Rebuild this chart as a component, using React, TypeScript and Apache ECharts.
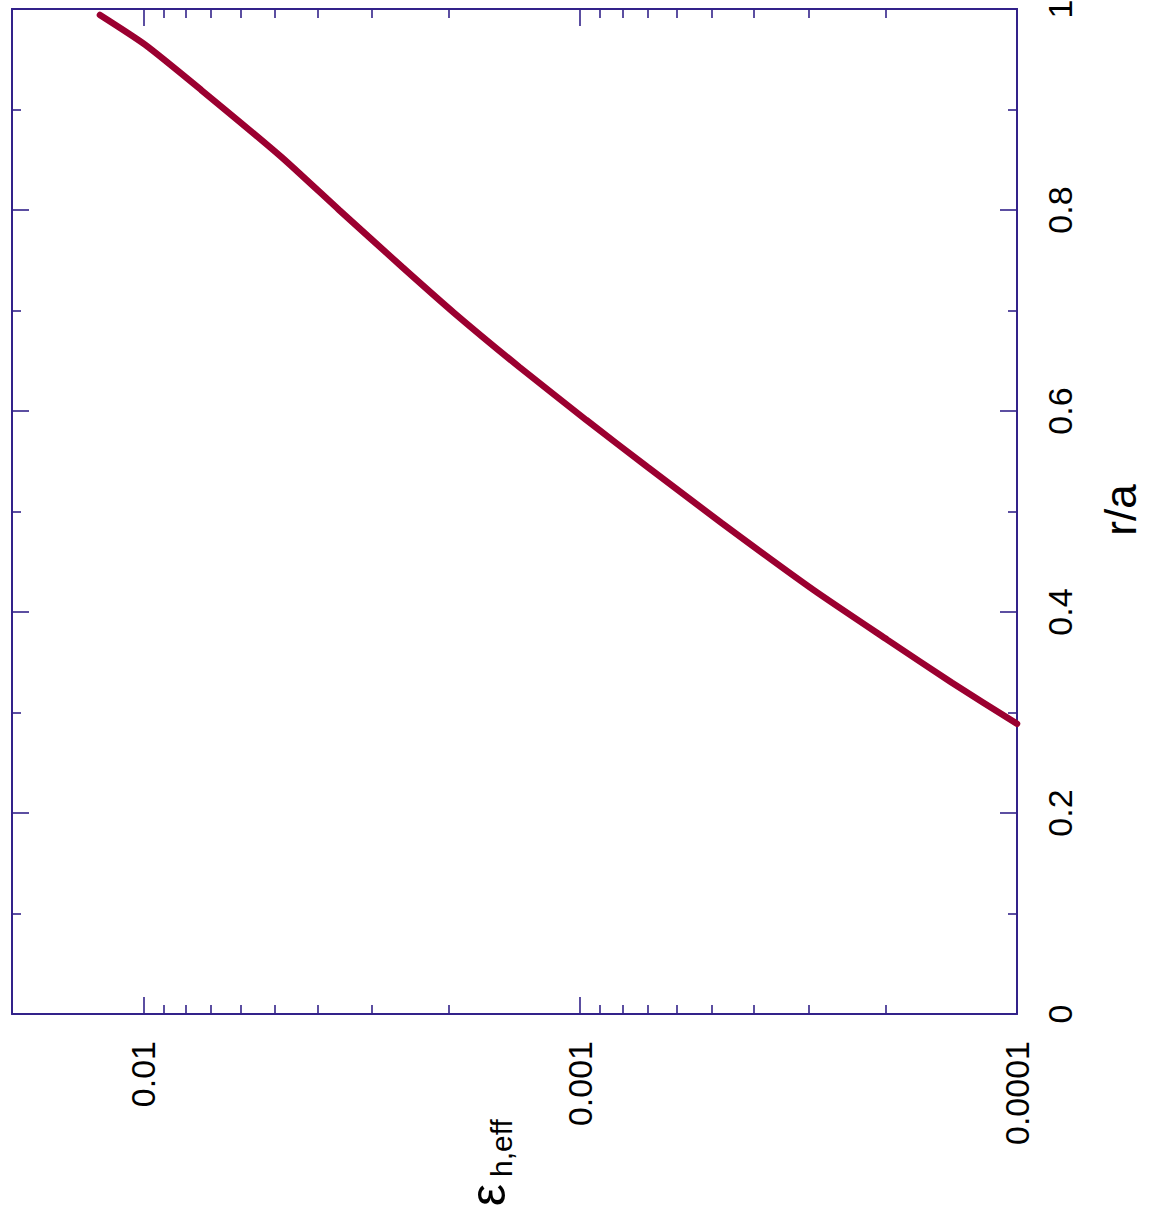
import React, { useEffect, useRef } from "react";
import * as echarts from "echarts";

// r/a (radial position) and effective helical ripple epsilon_h,eff
const rOverA = [0.2888, 0.3296, 0.3723, 0.4220, 0.4887, 0.5444, 0.5911, 0.6438, 0.6976, 0.7433, 0.8000, 0.8530, 0.9195, 0.9645, 0.9940];
const epsilon = [0.0001, 0.0001409, 0.000198, 0.0002925, 0.000475, 0.000702, 0.000969, 0.001379, 0.001944, 0.002557, 0.003565, 0.00484, 0.00738, 0.00992, 0.01258];

const epsMajorTicks = [0.0001, 0.001, 0.01];
const epsMinorTicks = [0.0002, 0.0003, 0.0004, 0.0005, 0.0006, 0.0007, 0.0008, 0.0009, 0.002, 0.003, 0.004, 0.005, 0.006, 0.007, 0.008, 0.009];
const epsMin = 0.0001;
const epsMax = 0.02;

const AXIS_COLOR = "#33228a";
const LINE_COLOR = "#9b0030";
const FONT = "'Liberation Sans', Arial, sans-serif";

export default function App() {
  const ref = useRef<HTMLDivElement>(null);
  useEffect(() => {
    if (!ref.current) return;
    const chart = echarts.init(ref.current, null, { renderer: "svg" });
    const data = rOverA.map((r, i) => [epsilon[i], r]);
    const axisLine = { show: true, onZero: false, lineStyle: { color: AXIS_COLOR, width: 2 } };
    const tickStyle = { color: AXIS_COLOR, width: 1.6 };
    const xBase = (pos: string, ticks: number[], len: number, labels: boolean) => ({
      type: "log",
      logBase: 10,
      min: epsMin,
      max: epsMax,
      inverse: true,
      position: pos,
      axisLine: labels ? axisLine : { show: pos === "top", onZero: false, lineStyle: { color: AXIS_COLOR, width: 2 } },
      axisTick: { show: true, inside: true, length: len, customValues: ticks, lineStyle: tickStyle },
      minorTick: { show: false },
      splitLine: { show: false },
      minorSplitLine: { show: false },
      axisLabel: labels
        ? {
            show: true,
            customValues: ticks,
            rotate: 90,
            margin: 27,
            fontSize: 34,
            fontFamily: FONT,
            color: "#000",
            formatter: (v: number) => {
              const e = Math.round(Math.log10(v));
              return Math.pow(10, e).toFixed(-e);
            },
          }
        : { show: false },
    });
    const yBase = (pos: string, labels: boolean) => ({
      type: "value",
      min: 0,
      max: 1,
      interval: 0.2,
      position: pos,
      axisLine,
      axisTick: { show: true, inside: true, length: 17, lineStyle: tickStyle },
      minorTick: { show: true, splitNumber: 2, length: 9, lineStyle: tickStyle },
      splitLine: { show: false },
      minorSplitLine: { show: false },
      axisLabel: labels
        ? {
            show: true,
            rotate: 90,
            margin: 26,
            fontSize: 34,
            fontFamily: FONT,
            color: "#000",
            formatter: (v: number) => String(+v.toFixed(1)),
          }
        : { show: false },
    });
    chart.setOption({
      animation: false,
      backgroundColor: "#ffffff",
      grid: { left: 12, top: 9, right: 134, bottom: 212, containLabel: false, outerBoundsMode: "none" },
      xAxis: [
        xBase("bottom", epsMajorTicks, 17, true),
        xBase("bottom", epsMinorTicks, 9, false),
        xBase("top", epsMajorTicks, 17, false),
        xBase("top", epsMinorTicks, 9, false),
      ],
      yAxis: [yBase("right", true), yBase("left", false)],
      series: [
        {
          type: "line",
          xAxisIndex: 0,
          yAxisIndex: 0,
          data,
          showSymbol: false,
          smooth: 0.2,
          lineStyle: { color: LINE_COLOR, width: 6.5, cap: "round" },
          itemStyle: { color: LINE_COLOR },
        },
      ],
      graphic: [
        {
          type: "text",
          x: 1120,
          y: 510,
          rotation: Math.PI / 2,
          style: { text: "r/a", fontSize: 44, fontFamily: FONT, fill: "#000", align: "center", verticalAlign: "middle" },
        },
        {
          type: "text",
          x: 488,
          y: 1195,
          rotation: Math.PI / 2,
          style: { text: "ε", fontSize: 50, fontFamily: FONT, fill: "#000", align: "center", verticalAlign: "middle" },
        },
        {
          type: "text",
          x: 501,
          y: 1148,
          rotation: Math.PI / 2,
          style: { text: "h,eff", fontSize: 30, fontFamily: FONT, fill: "#000", align: "center", verticalAlign: "middle" },
        },
      ],
    });
    return () => chart.dispose();
  }, []);
  return <div ref={ref} style={{ position: "absolute", left: 0, top: 0, width: 1151, height: 1226 }} />;
}
